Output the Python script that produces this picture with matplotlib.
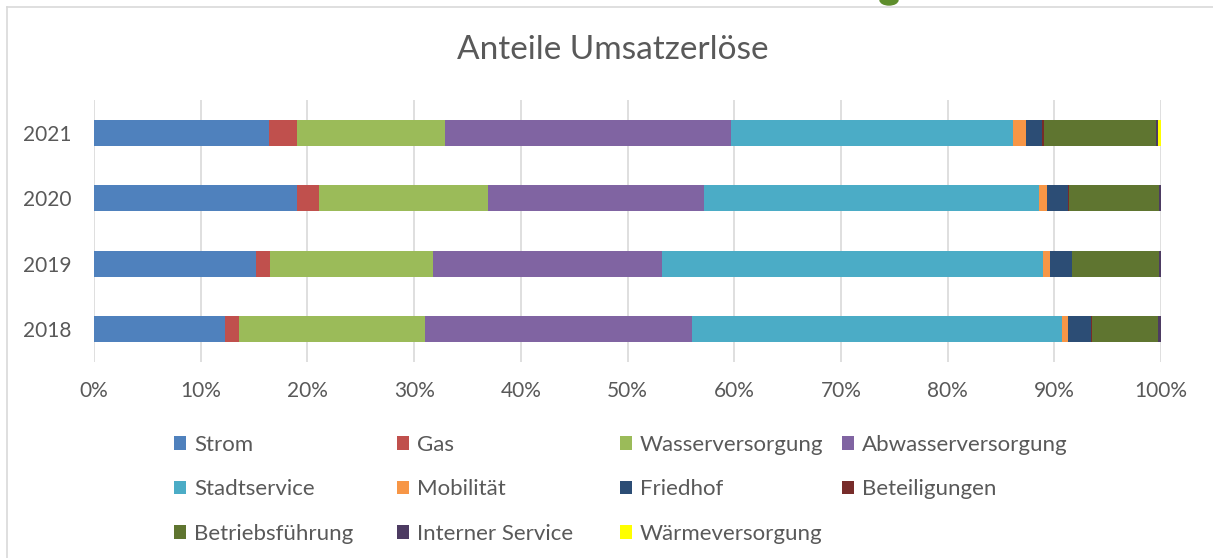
import matplotlib
matplotlib.use("Agg")
import matplotlib.pyplot as plt
from matplotlib.patches import Ellipse
import numpy as np

years = ["2018", "2019", "2020", "2021"]
series = ["Strom", "Gas", "Wasserversorgung", "Abwasserversorgung", "Stadtservice",
          "Mobilität", "Friedhof", "Beteiligungen", "Betriebsführung",
          "Interner Service", "Wärmeversorgung"]

strom = [12.25, 15.15, 18.99, 16.43]
gas = [1.37, 1.37, 2.10, 2.57]
wasser = [17.38, 15.22, 15.86, 13.87]
abwasser = [25.07, 21.52, 20.25, 26.89]
stadtservice = [34.68, 35.71, 31.40, 26.40]
mobilitaet = [0.50, 0.66, 0.70, 1.25]
friedhof = [2.13, 2.03, 2.00, 1.47]
beteiligungen = [0.10, 0.05, 0.10, 0.15]
betriebsfuehrung = [6.25, 8.14, 8.44, 10.50]
interner = [0.25, 0.16, 0.16, 0.25]
waerme = [0.00, 0.00, 0.00, 0.25]

colors = ["#4F81BD", "#C0504D", "#9BBB59", "#8064A2", "#4BACC6", "#F79646",
          "#2C4D75", "#772C2A", "#5F7530", "#4D3B62", "#FFFF00"]

data = np.array([strom, gas, wasser, abwasser, stadtservice, mobilitaet, friedhof,
                 beteiligungen, betriebsfuehrung, interner, waerme], dtype=float)
data = data / data.sum(axis=0) * 100.0

plt.rcParams['font.family'] = ['Lato', 'DejaVu Sans']
txt = "#595959"

W, H = 1213, 558
fig = plt.figure(figsize=(W / 100, H / 100), dpi=100)
ax = fig.add_axes([94 / W, 1 - 362 / H, (1161 - 94) / W, (362 - 100) / H])

y = np.arange(len(years))
left = np.zeros(len(years))
handles = []
for name, vals, c in zip(series, data, colors):
    h = ax.barh(y, vals, left=left, height=0.4, color=c, label=name, zorder=3)
    handles.append(h)
    left += vals

ax.set_xlim(0, 100)
ax.set_ylim(-0.5, len(years) - 0.5)
ax.set_yticks(y)
ax.set_yticklabels(years)
ax.set_xticks(np.arange(0, 101, 10))
ax.set_xticklabels([f"{v}%" for v in range(0, 101, 10)])
ax.tick_params(axis='both', length=0, labelsize=15, colors=txt)
ax.tick_params(axis='x', pad=14)
ax.tick_params(axis='y', pad=16)
ax.grid(axis='x', color="#D9D9D9", linewidth=1.2, zorder=0)
for s in ax.spines.values():
    s.set_visible(False)

fig.text(613 / W, 1 - 50 / H, "Anteile Umsatzerlöse", ha='center', va='center',
         fontsize=24, color=txt)

# legend laid out row-wise in four equally spaced columns like the original
columns = [[0, 4, 8], [1, 5, 9], [2, 6, 10], [3, 7]]
col_x = [174, 397, 620, 842]
for idx, cx in zip(columns, col_x):
    leg = fig.legend([handles[i] for i in idx], [series[i] for i in idx],
                     ncol=1, loc='upper left', bbox_to_anchor=(cx / W, 1 - 435 / H),
                     frameon=False, fontsize=16, handlelength=0.55, handleheight=0.55,
                     handletextpad=0.35, labelspacing=1.1,
                     borderaxespad=0, borderpad=0)
    for t in leg.get_texts():
        t.set_color(txt)

# chart border (top and left) and decoration
fig.add_artist(plt.Line2D([7 / W, 1], [1 - 7 / H, 1 - 7 / H], color="#D9D9D9", lw=1.2))
fig.add_artist(plt.Line2D([7 / W, 7 / W], [0, 1 - 7 / H], color="#D9D9D9", lw=1.2))
fig.add_artist(Ellipse((889 / W, 1.0), 18 / W, 10 / H, color="#5E8E2C",
                       transform=fig.transFigure))

fig.savefig("out.png", dpi=100, facecolor="white")
